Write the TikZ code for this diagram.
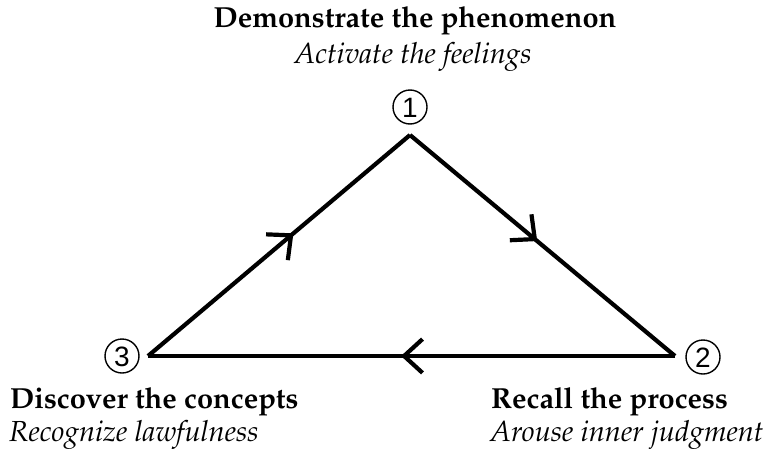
\documentclass[tikz,border=0pt]{standalone}
\usepackage[T1]{fontenc}
\usepackage{fontspec}
\newfontfamily\digfont{Liberation Sans}
\usetikzlibrary{arrows.meta,decorations.markings}
\newcommand\myboldfont{\fontsize{29}{33}\usefont{T1}{ppl}{b}{n}}
\newcommand\myitfont{\fontsize{29}{33}\usefont{T1}{ppl}{m}{it}}
\tikzset{
  edge/.style={line width=4.2pt, line join=miter},
  midarrow/.style={postaction={decorate}, decoration={markings,
     mark=at position #1 with {\arrow{Straight Barb[angle=85:25pt, line width=4.2pt]}}}},
  title/.style={inner sep=0pt, anchor=base, font=\myboldfont},
  sub/.style={inner sep=0pt, anchor=base, font=\myitfont},
  titleL/.style={inner sep=0pt, anchor=base west, font=\myboldfont},
  subL/.style={inner sep=0pt, anchor=base west, font=\myitfont},
  num/.style={circle, draw, line width=1.4pt, inner sep=0pt, minimum size=34pt,
     text height=20pt, text depth=0pt, font=\digfont\fontsize{28}{30}\selectfont}
}
\begin{document}
\begin{tikzpicture}[x=1pt,y=-1pt]
\useasboundingbox (0,0) rectangle (768,450);
\coordinate (A) at (410,135);
\coordinate (B) at (675,356);
\coordinate (C) at (148,356);
\draw[edge, midarrow=0.555] (C) -- (A);
\draw[edge, midarrow=0.48] (A) -- (B);
\draw[edge, midarrow=0.52] (B) -- (C);
\node[num] (n1) at (410,107) {1};
\node[num] (n2) at (703,357) {2};
\node[num] (n3) at (122,356) {3};
\node[title] (t1) at (415,27) {Demonstrate the phenomenon};
\node[sub] (s1) at (413,63) {Activate the feelings};
\node[titleL] (t3) at (10,408) {Discover the concepts};
\node[subL] (s3) at (9,441) {Recognize lawfulness};
\node[titleL] (t2) at (491,408) {Recall the process};
\node[subL] (s2) at (490,441) {Arouse inner judgment};
\end{tikzpicture}
\end{document}
